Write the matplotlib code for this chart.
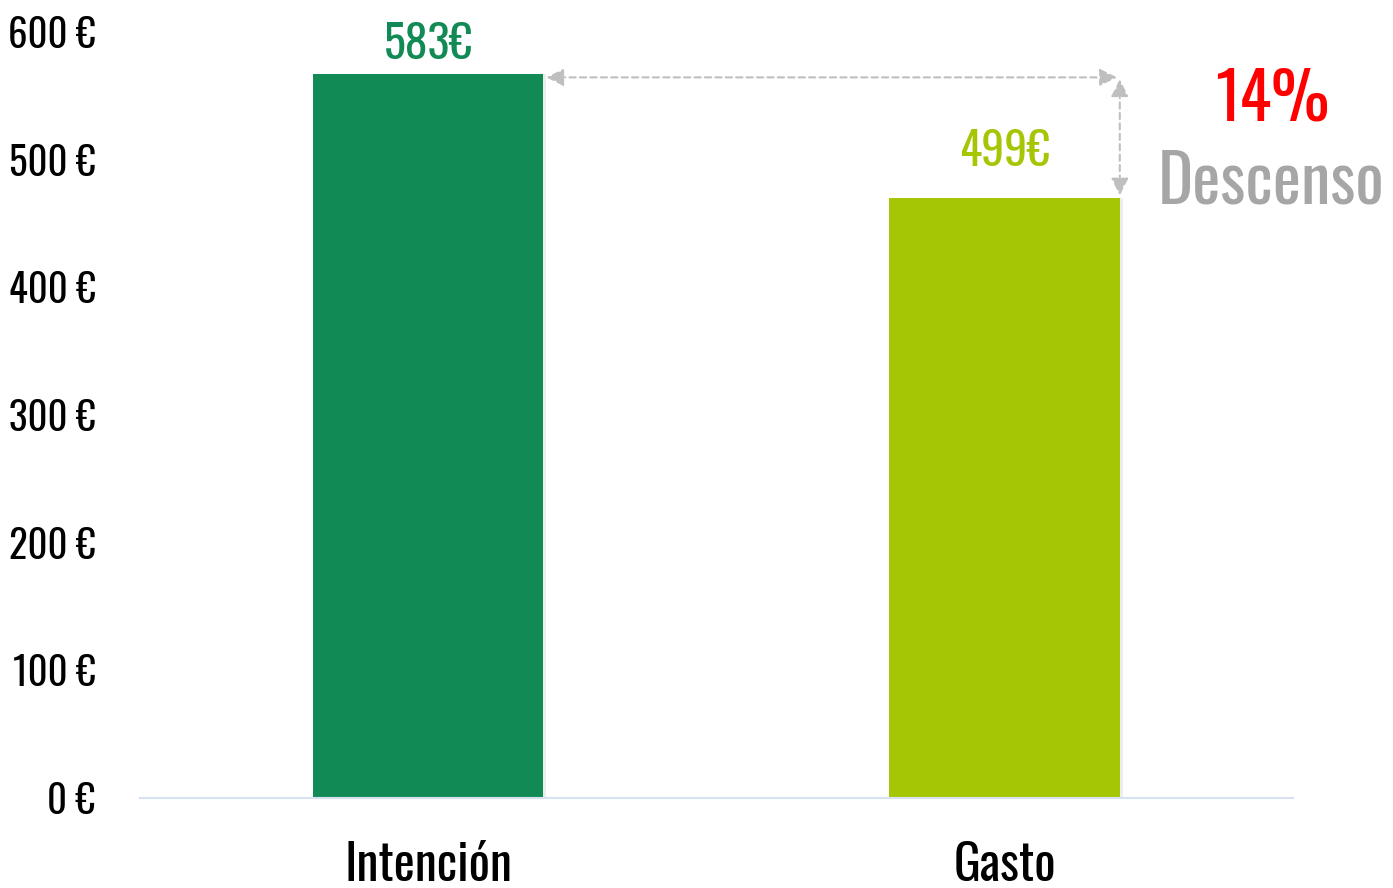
import matplotlib
matplotlib.use("Agg")
import matplotlib.pyplot as plt

categories = ["Intención", "Gasto"]
bar_heights = [567, 470]          # heights as drawn in the picture
label_values = [583, 499]
bar_labels = ["583€", "499€"]
bar_colors = ["#118A55", "#A5C605"]
y_ticks = [0, 100, 200, 300, 400, 500, 600]
y_tick_labels = ["0 €", "100 €", "200 €", "300 €", "400 €", "500 €", "600 €"]
drop_text = "14%"
drop_word = "Descenso"

plt.rcParams['font.family'] = ['Oswald', 'DejaVu Sans']

fig = plt.figure(figsize=(13.93, 8.88), dpi=100)
ax = fig.add_axes([0.1005, 0.1014, 0.8275, 0.8625])

x = range(len(categories))
# soft shadow
ax.bar([i + 0.005 for i in x], bar_heights, width=0.4, color="#000000", alpha=0.07, zorder=1)
ax.bar(x, bar_heights, width=0.4, color=bar_colors, zorder=2)

ax.set_xlim(-0.5, 1.5)
ax.set_ylim(0, 600)
ax.set_yticks(y_ticks)
ax.set_yticklabels(y_tick_labels, fontsize=28)
ax.set_xticks(list(x))
ax.set_xticklabels(categories, fontsize=36)
ax.tick_params(axis='y', length=0, pad=32)
ax.tick_params(axis='x', length=0, pad=31)

for s in ['top', 'right', 'left']:
    ax.spines[s].set_visible(False)
ax.spines['bottom'].set_color("#D6E1F2")
ax.spines['bottom'].set_linewidth(1.5)

for i, (v, lab, c) in enumerate(zip(label_values, bar_labels, bar_colors)):
    ax.text(i, v - 4, lab, ha='center', va='baseline', fontsize=33, color=c)

# dashed arrows between the bar tops
arrow_kw = dict(arrowstyle='<|-|>', color="#BFBFBF", lw=1.5, linestyle=(0, (3, 2)),
                mutation_scale=26, shrinkA=0, shrinkB=0)
ax.annotate("", xy=(1.195, bar_heights[0] - 2.5), xytext=(0.205, bar_heights[0] - 2.5),
            arrowprops=arrow_kw)
ax.annotate("", xy=(1.2, bar_heights[1] + 2), xytext=(1.2, bar_heights[0] - 4),
            arrowprops=arrow_kw)

ax.text(1.464, 546, drop_text, ha='center', va='center', fontsize=47, color="#FF0000", clip_on=False)
ax.text(1.462, 482, drop_word, ha='center', va='center', fontsize=48, color="#A6A6A6", clip_on=False)

fig.savefig("out.png", dpi=100)
